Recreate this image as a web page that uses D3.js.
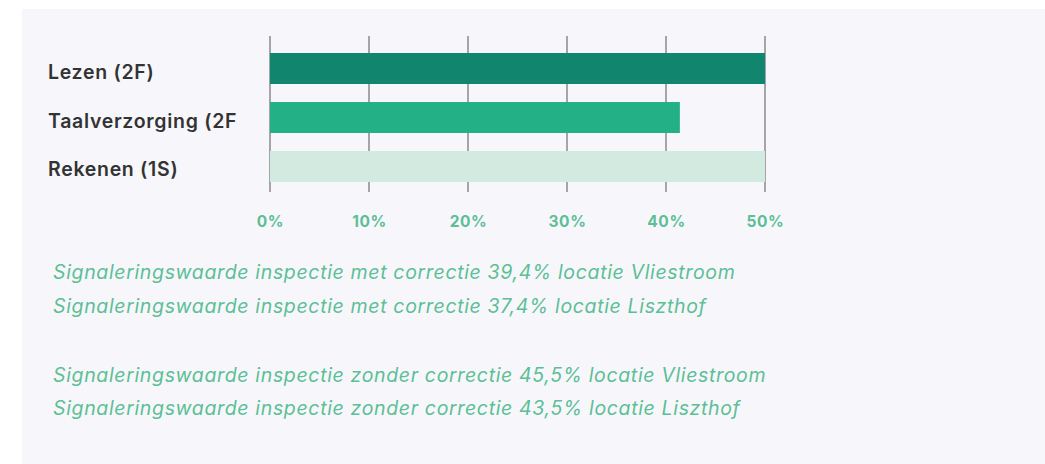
<!DOCTYPE html>
<html>
<head>
<meta charset="utf-8">
<script src="https://cdn.jsdelivr.net/npm/d3@7"></script>
<style>
  html, body { margin: 0; padding: 0; background: #ffffff; }
  svg { display: block; }
</style>
</head>
<body>
<svg id="chart" width="1045" height="464"></svg>
<script>
const categories = ["Lezen (2F)", "Taalverzorging (2F", "Rekenen (1S)"];
const values = [50, 41.4, 50];
const barColors = ["#11856e", "#23b087", "#d2eadf"];
const tickValues = [0, 10, 20, 30, 40, 50];
const notes = [
  "Signaleringswaarde inspectie met correctie 39,4% locatie Vliestroom",
  "Signaleringswaarde inspectie met correctie 37,4% locatie Liszthof",
  "Signaleringswaarde inspectie zonder correctie 45,5% locatie Vliestroom",
  "Signaleringswaarde inspectie zonder correctie 43,5% locatie Liszthof"
];

const svg = d3.select("#chart");

svg.append("rect")
  .attr("x", 22).attr("y", 9)
  .attr("width", 1045 - 22).attr("height", 464 - 9)
  .attr("fill", "#f7f7fb");

const x = d3.scaleLinear().domain([0, 50]).range([270, 765]);
const y = d3.scaleBand().domain(categories).range([53, 182]).paddingInner(0.367).paddingOuter(0);

// gridlines
svg.append("g").selectAll("line")
  .data(tickValues)
  .join("line")
  .attr("x1", d => x(d)).attr("x2", d => x(d))
  .attr("y1", 36).attr("y2", 192)
  .attr("stroke", "#8a8a8e")
  .attr("stroke-width", 1.5);

// bars
svg.append("g").selectAll("rect")
  .data(categories)
  .join("rect")
  .attr("x", x(0))
  .attr("y", d => y(d))
  .attr("width", (d, i) => x(values[i]) - x(0))
  .attr("height", y.bandwidth())
  .attr("fill", (d, i) => barColors[i]);

// category labels
svg.append("g").selectAll("text")
  .data(categories)
  .join("text")
  .attr("x", 48)
  .attr("y", d => y(d) + y.bandwidth() / 2 + 10)
  .attr("font-family", "Inter, 'Noto Sans', sans-serif")
  .attr("font-weight", 600)
  .attr("font-size", 19.5)
  .attr("letter-spacing", 0.7)
  .attr("fill", "#333333")
  .text(d => d);

// x axis labels
const xAxis = d3.axisBottom(x)
  .tickValues(tickValues)
  .tickSize(0)
  .tickPadding(0)
  .tickFormat(d => d + "%");
const gx = svg.append("g").attr("transform", "translate(0,227)").call(xAxis);
gx.select(".domain").remove();
gx.selectAll("text")
  .attr("y", 0)
  .attr("dy", 0)
  .attr("font-family", "Inter, 'Noto Sans', sans-serif")
  .attr("font-weight", 700)
  .attr("font-size", 15.5)
  .attr("letter-spacing", 0.6)
  .attr("fill", "#5cbf96");

// notes
const noteY = [279, 313, 382, 415];
svg.append("g").selectAll("text")
  .data(notes)
  .join("text")
  .attr("x", 53)
  .attr("y", (d, i) => noteY[i])
  .attr("font-family", "Inter, 'Noto Sans', sans-serif")
  .attr("font-style", "italic")
  .attr("font-size", 19.5)
  .attr("letter-spacing", 0.65)
  .attr("fill", "#5cbf96")
  .text(d => d);
</script>
</body>
</html>
